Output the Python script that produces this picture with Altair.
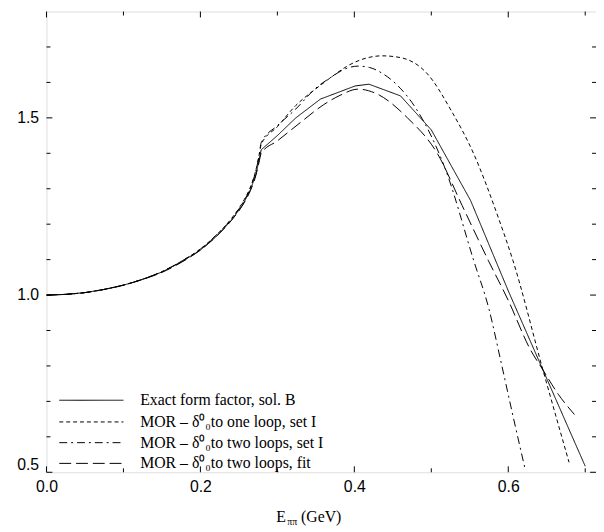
import altair as alt
import pandas as pd

# ---------------- data ----------------
series_names = [
    "Exact form factor, sol. B",
    "MOR – δ⁰₀to one loop, set I",
    "MOR – δ⁰₀to two loops, set I",
    "MOR – δ⁰₀to two loops, fit",
]

E_exact = [0.0, 0.025, 0.05, 0.075, 0.1, 0.125, 0.15, 0.175, 0.2, 0.22, 0.24, 0.255, 0.265,
           0.272, 0.276, 0.279, 0.3, 0.324, 0.356, 0.367, 0.401, 0.419, 0.46, 0.5, 0.551,
           0.6, 0.645, 0.7]
F_exact = [1.0, 1.002, 1.007, 1.016, 1.028, 1.044, 1.065, 1.093, 1.127, 1.164, 1.21, 1.255,
           1.297, 1.34, 1.378, 1.41, 1.45, 1.5, 1.553, 1.562, 1.59, 1.595, 1.562, 1.466,
           1.267, 1.012, 0.789, 0.517]

E_one = [0.0, 0.025, 0.05, 0.075, 0.1, 0.125, 0.15, 0.175, 0.2, 0.22, 0.24, 0.255, 0.265,
         0.272, 0.276, 0.279, 0.3, 0.324, 0.35, 0.372, 0.39, 0.41, 0.436, 0.46, 0.495,
         0.526, 0.555, 0.587, 0.606, 0.645, 0.679]
F_one = [1.0, 1.002, 1.007, 1.016, 1.028, 1.045, 1.066, 1.095, 1.13, 1.168, 1.215, 1.262,
         1.305, 1.352, 1.392, 1.425, 1.475, 1.535, 1.582, 1.618, 1.645, 1.665, 1.675, 1.67,
         1.624, 1.52, 1.399, 1.219, 1.098, 0.789, 0.528]

E_two = [0.0, 0.025, 0.05, 0.075, 0.1, 0.125, 0.15, 0.175, 0.2, 0.22, 0.24, 0.255, 0.265,
         0.272, 0.276, 0.279, 0.3, 0.324, 0.35, 0.37, 0.388, 0.405, 0.42, 0.436, 0.453,
         0.482, 0.519, 0.555, 0.575, 0.59, 0.605, 0.622]
F_two = [1.0, 1.002, 1.007, 1.016, 1.028, 1.045, 1.066, 1.095, 1.13, 1.168, 1.214, 1.26,
         1.303, 1.35, 1.39, 1.43, 1.478, 1.525, 1.584, 1.615, 1.638, 1.646, 1.642, 1.626,
         1.598, 1.52, 1.351, 1.098, 0.96, 0.817, 0.67, 0.508]

E_fit = [0.0, 0.025, 0.05, 0.075, 0.1, 0.125, 0.15, 0.175, 0.2, 0.22, 0.24, 0.255, 0.265,
         0.272, 0.276, 0.279, 0.3, 0.33, 0.36, 0.38, 0.405, 0.427, 0.469, 0.508, 0.54,
         0.574, 0.6, 0.629, 0.645, 0.665, 0.686]
F_fit = [1.0, 1.002, 1.007, 1.016, 1.028, 1.044, 1.064, 1.092, 1.127, 1.164, 1.21, 1.254,
         1.295, 1.337, 1.373, 1.40, 1.435, 1.487, 1.537, 1.562, 1.581, 1.57, 1.50, 1.399,
         1.253, 1.098, 0.985, 0.845, 0.789, 0.72, 0.663]

x_major = [0.0, 0.2, 0.4, 0.6]
x_minor = [0.1, 0.3, 0.5, 0.7]
y_major = [0.5, 1.0, 1.5]
y_minor = [0.6, 0.7, 0.8, 0.9, 1.1, 1.2, 1.3, 1.4, 1.6, 1.7]

title_parts = ["E", "ππ", "(GeV)"]

# ---------------- styles ----------------
dashes = [[1, 0], [4, 3], [8, 4, 2, 4], [12, 5]]
W, H = 557, 467
SANS = "Liberation Sans"
SERIF = "Liberation Serif"


def build(name, E, F):
    return pd.DataFrame({"series": name, "E": E, "F": F})


df_exact = build(series_names[0], E_exact, F_exact)
df_dashed = pd.concat([build(series_names[1], E_one, F_one),
                       build(series_names[2], E_two, F_two),
                       build(series_names[3], E_fit, F_fit)])

xscale = alt.Scale(domain=[0, 0.714], nice=False, zero=False)
yscale = alt.Scale(domain=[0.5, 1.8], nice=False, zero=False)
xaxis = alt.Axis(values=x_major, format=".1f", ticks=False, domain=False,
                 grid=False, labelFont=SANS, labelFontSize=16, labelFlush=False,
                 labelColor="black", labelPadding=6, title=None)
yaxis = alt.Axis(values=y_major, format=".1f", ticks=False, domain=False,
                 grid=False, labelFont=SANS, labelFontSize=16, labelFlush=True,
                 labelColor="black", labelPadding=8, title=None)
dash_scale = alt.Scale(domain=series_names, range=dashes)

line_exact = alt.Chart(df_exact).mark_line(strokeWidth=1, color="black", clip=True).encode(
    x=alt.X("E:Q", scale=xscale, axis=xaxis),
    y=alt.Y("F:Q", scale=yscale, axis=yaxis),
    strokeDash=alt.StrokeDash("series:N", scale=dash_scale, legend=None),
)
line_dashed = alt.Chart(df_dashed).mark_line(
    strokeWidth=1, color="black", clip=True, interpolate="monotone").encode(
    x=alt.X("E:Q", scale=xscale, axis=xaxis),
    y=alt.Y("F:Q", scale=yscale, axis=yaxis),
    strokeDash=alt.StrokeDash("series:N", scale=dash_scale, legend=None),
)

tick_layers = []
for vals, L in [(x_major, 6), (x_minor, 4)]:
    d = pd.DataFrame({"E": vals})
    tick_layers.append(alt.Chart(d).mark_rule(color="black", strokeWidth=1).encode(
        x=alt.X("E:Q", scale=xscale, axis=xaxis), y=alt.value(H), y2=alt.value(H - L)))
    tick_layers.append(alt.Chart(d).mark_rule(color="black", strokeWidth=1).encode(
        x=alt.X("E:Q", scale=xscale, axis=xaxis), y=alt.value(0), y2=alt.value(L)))
for vals, L in [(y_major, 6), (y_minor, 4)]:
    d = pd.DataFrame({"F": vals})
    tick_layers.append(alt.Chart(d).mark_rule(color="black", strokeWidth=1).encode(
        y=alt.Y("F:Q", scale=yscale, axis=yaxis), x=alt.value(0), x2=alt.value(L)))
    tick_layers.append(alt.Chart(d).mark_rule(color="black", strokeWidth=1).encode(
        y=alt.Y("F:Q", scale=yscale, axis=yaxis), x=alt.value(W), x2=alt.value(W - L)))

# legend (drawn by hand)
legend_layers = []
legend_y = [394, 416, 437, 458]
for name, dash, ly in zip(series_names, dashes, legend_y):
    legend_layers.append(alt.Chart(pd.DataFrame({"s": [name]})).mark_rule(
        color="black", strokeWidth=1, strokeDash=dash).encode(
        x=alt.value(13), x2=alt.value(78), y=alt.value(ly)))
    legend_layers.append(alt.Chart(pd.DataFrame({"s": [name]})).mark_text(
        font=SERIF, fontSize=16, align="left", baseline="middle", color="black").encode(
        text="s:N", x=alt.value(95), y=alt.value(ly)))

# x-axis title with subscript
title_layers = [
    alt.Chart(pd.DataFrame({"t": [title_parts[0]]})).mark_text(
        font=SERIF, fontSize=16, align="left", baseline="alphabetic", color="black"
    ).encode(text="t:N", x=alt.value(233), y=alt.value(517)),
    alt.Chart(pd.DataFrame({"t": [title_parts[1]]})).mark_text(
        font=SERIF, fontSize=10, align="left", baseline="alphabetic", color="black"
    ).encode(text="t:N", x=alt.value(244), y=alt.value(520)),
    alt.Chart(pd.DataFrame({"t": [title_parts[2]]})).mark_text(
        font=SERIF, fontSize=16, align="left", baseline="alphabetic", color="black"
    ).encode(text="t:N", x=alt.value(258), y=alt.value(517)),
]

chart = alt.layer(line_exact, line_dashed, *tick_layers, *legend_layers,
                  *title_layers).properties(
    width=W, height=H, autosize="none",
    padding={"left": 39, "top": 0, "right": 0, "bottom": 60},
).configure_view(stroke="black", strokeWidth=1).configure(background="white")

chart.save("out.html", embed_options={"renderer": "svg", "actions": False})
